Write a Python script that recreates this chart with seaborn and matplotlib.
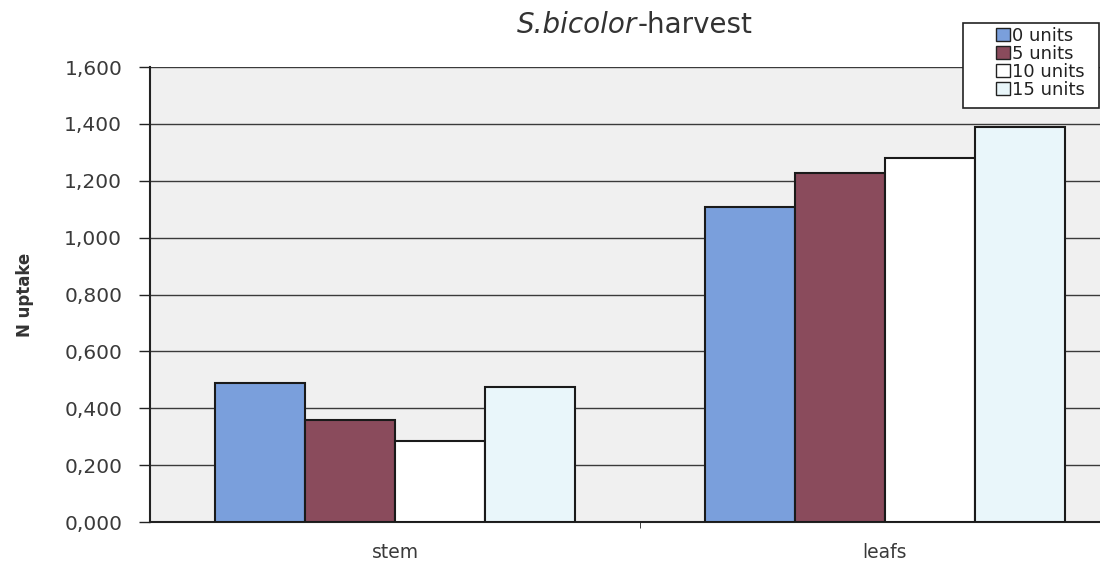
import pandas as pd
import seaborn as sns
import matplotlib.pyplot as plt
from matplotlib.patches import Patch, Rectangle
from matplotlib.ticker import FuncFormatter

# values
parts = ['stem', 'leafs']
doses = ['0 units', '5 units', '10 units', '15 units']
uptake_stem = [0.489, 0.359, 0.285, 0.475]
uptake_leafs = [1.108, 1.227, 1.280, 1.389]
colors = ['#7a9fdc', '#8a4b5c', '#ffffff', '#e9f6fa']

rows = []
for d, s, l in zip(doses, uptake_stem, uptake_leafs):
    rows.append({'part': 'stem', 'dose': d, 'N': s})
    rows.append({'part': 'leafs', 'dose': d, 'N': l})
df = pd.DataFrame(rows)

sns.set_style('white')
plt.rcParams['font.family'] = ['DejaVu Sans']

fig = plt.figure(figsize=(11, 5.63), dpi=100)
ax = fig.add_axes([0.1364, 0.0728, 0.8636, 0.808])
ax.set_facecolor('#f0f0f0')

sns.barplot(data=df, x='part', y='N', hue='dose', order=parts, hue_order=doses,
            palette=colors, edgecolor='#1a1a1a', linewidth=1.5, width=0.735,
            saturation=1, legend=False, ax=ax, zorder=3)

ax.set_ylim(0, 1.6)
ax.set_xlim(-0.5, 1.439)
ax.set_yticks([i * 0.2 for i in range(9)])
ax.yaxis.set_major_formatter(FuncFormatter(lambda v, p: f'{v:.3f}'.replace('.', ',')))
ax.grid(axis='y', color='#3a3a3a', linewidth=1.0, zorder=0)
ax.set_axisbelow(True)

for side in ['top', 'right']:
    ax.spines[side].set_visible(False)
for side in ['left', 'bottom']:
    ax.spines[side].set_color('#222222')
    ax.spines[side].set_linewidth(1.5)

ax.tick_params(axis='y', direction='out', length=8, width=1, color='#222222',
               labelsize=14.5, labelcolor='#3a3a3a', pad=12, left=True)
ax.tick_params(axis='x', length=0, labelsize=13.5, labelcolor='#3a3a3a', pad=15)
ax.set_xticks([0.5], minor=True)
ax.tick_params(axis='x', which='minor', length=4, color='#222222', bottom=True)

ax.set_xlabel('')
ax.set_ylabel('N uptake', fontsize=12, fontweight='bold', color='#333333')
ax.yaxis.set_label_coords(-0.122, 0.5)

# title: italic species name followed by plain text
t1 = fig.text(0, 0.941, 'S.bicolor', style='italic', fontsize=20, color='#333333', va='baseline')
t2 = fig.text(0, 0.941, '-harvest', fontsize=20, color='#333333', va='baseline')
r = fig.canvas.get_renderer()
w1 = t1.get_window_extent(r).width / fig.bbox.width
w2 = t2.get_window_extent(r).width / fig.bbox.width
x0 = 0.577 - (w1 + w2) / 2
t1.set_x(x0)
t2.set_x(x0 + w1)

# legend box (frame drawn separately, wide left margin like the original)
fig.patches.append(Rectangle((963 / 1100, 1 - 108 / 563), 136 / 1100, 85 / 563,
                             transform=fig.transFigure, facecolor='white',
                             edgecolor='#222222', linewidth=1.2, zorder=5))
handles = [Patch(facecolor=c, edgecolor='#222222', linewidth=1, label=d)
           for c, d in zip(colors, doses)]
leg = fig.legend(handles=handles, loc='upper left', bbox_to_anchor=(996 / 1100, 1 - 27 / 563),
                 fontsize=13, frameon=False, handlelength=0.75, handleheight=0.75,
                 handletextpad=0.15, labelspacing=0.0, borderpad=0, borderaxespad=0)
for txt in leg.get_texts():
    txt.set_color('#222222')
leg.set_zorder(6)

fig.savefig('out.png', dpi=100, facecolor='white')
